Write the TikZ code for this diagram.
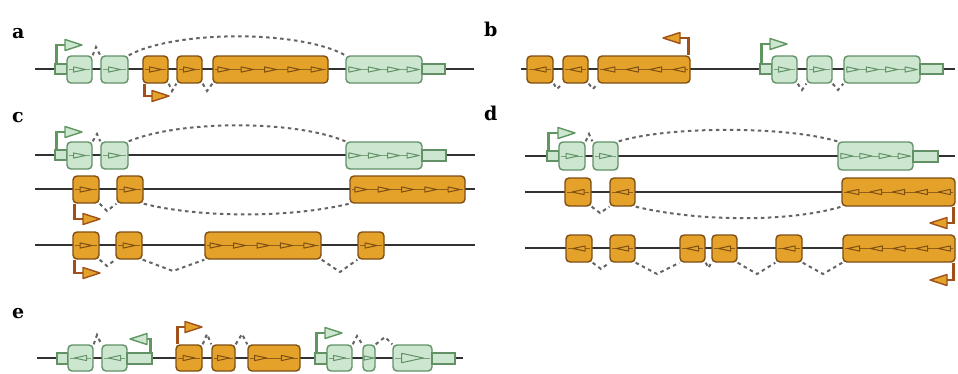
\documentclass[tikz,border=0pt]{standalone}
\usepackage{fontspec}
\setmainfont{DejaVu Serif}
\usetikzlibrary{calc}

\definecolor{gfill}{RGB}{204,230,208}
\definecolor{gline}{RGB}{98,145,102}
\definecolor{gprom}{RGB}{96,150,96}
\definecolor{ofill}{RGB}{229,162,42}
\definecolor{oline}{RGB}{125,78,20}
\definecolor{oprom}{RGB}{160,80,25}
\definecolor{intron}{RGB}{50,50,50}
\definecolor{splice}{RGB}{100,100,100}

\tikzset{
 gex/.style={draw=gline, fill=gfill, line width=1.4pt, rounded corners=4pt, inner sep=0pt},
 oex/.style={draw=oline, fill=ofill, line width=1.4pt, rounded corners=4pt, inner sep=0pt},
 gutr/.style={draw=gline, fill=gfill, line width=1.2pt, inner sep=0pt},
 intr/.style={draw=intron, line width=1.7pt},
 spl/.style={draw=splice, line width=2pt, dash pattern=on 3.5pt off 3.5pt},
 gstem/.style={draw=gprom, line width=2.8pt},
 ostem/.style={draw=oprom, line width=2.8pt},
 gtip/.style={draw=gprom, fill=gfill, line width=1.4pt, line join=round},
 otip/.style={draw=oprom, fill=ofill, line width=1.4pt, line join=round},
 gtri/.style={draw=gline, fill=gfill, line width=1pt, line join=round},
 otri/.style={draw=oline, fill=ofill, line width=1pt, line join=round},
 lab/.style={font=\bfseries\fontsize{19}{19}\selectfont, anchor=base west, inner sep=0pt},
}

% #1 style, #2 name, #3 x1, #4 x2, #5 y1, #6 y2
\newcommand\ex[6]{\node[#1, minimum width={(#4)-(#3)}, minimum height={(#6)-(#5)}] (#2) at ({((#3)+(#4))/2},{((#5)+(#6))/2}) {};}
% [#1 scale] #2 node, #3 count, #4 dir, #5 style
\newcommand\tris[5][1]{%
 \draw[#5, fill=none, opacity=0.8] ([xshift=3pt]#2.west) -- ([xshift=-3pt]#2.east);
 \foreach \i in {1,...,#3}{
   \coordinate (tt) at ($(#2.west)!{(\i-0.5)/#3}!(#2.east)$);
   \draw[#5, shift={(tt)}, xscale={#4*#1}, yscale=#1] (-6,-2.6) -- (6,0) -- (-6,2.6) -- cycle;
 }}
% #1 stem style, #2 tip style, #3 start, #4 corner, #5 dir
\newcommand\prom[5]{%
 \draw[#1] #3 |- #4;
 \draw[#2, shift={#4}, xscale=#5] (0,-5.5) -- (17,0) -- (0,5.5) -- cycle;}

\begin{document}
\begin{tikzpicture}[x=1pt,y=-1pt]
\useasboundingbox (0,0) rectangle (958,373);
\fill[white] (0,0) rectangle (958,373);

% labels
\node[lab] (la) at (12,38) {a};
\node[lab] (lb) at (484,36) {b};
\node[lab] (lc) at (12,122) {c};
\node[lab] (ld) at (484,120) {d};
\node[lab] (le) at (12,318) {e};

% ================= a
\draw[intr] (35,69) -- (474,69);
\ex{gutr}{au}{55}{67}{64}{74}
\ex{gex}{ag1}{67}{92}{56}{83}
\ex{gex}{ag2}{101}{128}{56}{83}
\ex{oex}{ao1}{143}{168}{56}{83}
\ex{oex}{ao2}{177}{202}{56}{83}
\ex{oex}{aO}{213}{328}{56}{83}
\ex{gex}{aG}{346}{422}{56}{83}
\ex{gutr}{au2}{422}{445}{64}{74}
\tris{ag1}{1}{1}{gtri}\tris{ag2}{1}{1}{gtri}
\tris{ao1}{1}{1}{otri}\tris{ao2}{1}{1}{otri}\tris{aO}{5}{1}{otri}
\tris{aG}{4}{1}{gtri}
\prom{gstem}{gtip}{([xshift=2pt]au.north west)}{(65,45)}{1}
\prom{ostem}{otip}{([xshift=2.5pt]ao1.south west)}{(152,96)}{1}
\draw[spl] (ag1.north east) -- (96,47) -- (ag2.north west);
\draw[spl] (ag2.north east) .. controls (175,30) and (300,30) .. (aG.north west);
\draw[spl] (ao1.south east) -- (172,91) -- (ao2.south west);
\draw[spl] (ao2.south east) -- (207,91) -- (aO.south west);

% ================= b
\draw[intr] (521,69) -- (955,69);
\ex{oex}{bo1}{527}{553}{56}{83}
\ex{oex}{bo2}{563}{588}{56}{83}
\ex{oex}{bO}{598}{690}{56}{83}
\tris{bo1}{1}{-1}{otri}\tris{bo2}{1}{-1}{otri}\tris{bO}{4}{-1}{otri}
\prom{ostem}{otip}{([xshift=-2.5pt]bO.north east)}{(680,38)}{-1}
\ex{gutr}{bu}{760}{772}{64}{74}
\ex{gex}{bg1}{772}{797}{56}{83}
\ex{gex}{bg2}{807}{832}{56}{83}
\ex{gex}{bG}{844}{920}{56}{83}
\ex{gutr}{bu2}{920}{943}{64}{74}
\tris{bg1}{1}{1}{gtri}\tris{bg2}{1}{1}{gtri}\tris{bG}{4}{1}{gtri}
\prom{gstem}{gtip}{([xshift=2pt]bu.north west)}{(770,44)}{1}
\draw[spl] (bo1.south east) -- (557,89) -- (bo2.south west);
\draw[spl] (bo2.south east) -- (593,89) -- (bO.south west);
\draw[spl] (bg1.south east) -- (802,90) -- (bg2.south west);
\draw[spl] (bg2.south east) -- (838,90) -- (bG.south west);

% ================= c
\draw[intr] (35,155) -- (475,155);
\ex{gutr}{cu}{55}{67}{150}{160}
\ex{gex}{cg1}{67}{92}{142}{169}
\ex{gex}{cg2}{101}{128}{142}{169}
\ex{gex}{cG}{346}{422}{142}{169}
\ex{gutr}{cu2}{422}{446}{150}{161}
\tris{cg1}{1}{1}{gtri}\tris{cg2}{1}{1}{gtri}\tris{cG}{4}{1}{gtri}
\prom{gstem}{gtip}{([xshift=2pt]cu.north west)}{(65,132)}{1}
\draw[spl] (cg1.north east) -- (97,134) -- (cg2.north west);
\draw[spl] (cg2.north east) .. controls (180,120) and (295,120) .. (cG.north west);

\draw[intr] (35,189) -- (475,189);
\ex{oex}{co1}{73}{99}{176}{203}
\ex{oex}{co2}{117}{143}{176}{203}
\ex{oex}{cO}{350}{465}{176}{203}
\tris{co1}{1}{1}{otri}\tris{co2}{1}{1}{otri}\tris{cO}{5}{1}{otri}
\prom{ostem}{otip}{([xshift=2.5pt]co1.south west)}{(83,219)}{1}
\draw[spl] (co1.south east) -- (107,211) -- (co2.south west);
\draw[spl] (co2.south east) .. controls (200,218) and (290,218) .. (cO.south west);

\draw[intr] (35,245) -- (475,245);
\ex{oex}{c3a}{73}{99}{232}{259}
\ex{oex}{c3b}{116}{142}{232}{259}
\ex{oex}{c3O}{205}{321}{232}{259}
\ex{oex}{c3c}{358}{384}{232}{259}
\tris{c3a}{1}{1}{otri}\tris{c3b}{1}{1}{otri}\tris{c3O}{5}{1}{otri}\tris{c3c}{1}{1}{otri}
\prom{ostem}{otip}{([xshift=2.5pt]c3a.south west)}{(83,273)}{1}
\draw[spl] (c3a.south east) -- (107,266) -- (c3b.south west);
\draw[spl] (c3b.south east) -- (173,271) -- (c3O.south west);
\draw[spl] (c3O.south east) -- (340,272) -- (c3c.south west);

% ================= d
\draw[intr] (525,156) -- (955,156);
\ex{gutr}{du}{547}{559}{151}{161}
\ex{gex}{dg1}{559}{585}{142}{170}
\ex{gex}{dg2}{593}{618}{142}{170}
\ex{gex}{dG}{838}{913}{142}{170}
\ex{gutr}{du2}{913}{938}{151}{162}
\tris{dg1}{1}{1}{gtri}\tris{dg2}{1}{1}{gtri}\tris{dG}{4}{1}{gtri}
\prom{gstem}{gtip}{([xshift=2pt]du.north west)}{(558,133)}{1}
\draw[spl] (dg1.north east) -- (589,134) -- (dg2.north west);
\draw[spl] (dg2.north east) .. controls (670,126) and (785,126) .. (dG.north west);

\draw[intr] (525,192) -- (955,192);
\ex{oex}{d2a}{565}{591}{178}{206}
\ex{oex}{d2b}{610}{635}{178}{206}
\ex{oex}{d2O}{842}{955}{178}{206}
\tris{d2a}{1}{-1}{otri}\tris{d2b}{1}{-1}{otri}\tris{d2O}{5}{-1}{otri}
\prom{ostem}{otip}{([xshift=-2.5pt]d2O.south east)}{(947,223)}{-1}
\draw[spl] (d2a.south east) -- (600,213) -- (d2b.south west);
\draw[spl] (d2b.south east) .. controls (700,222) and (790,222) .. (d2O.south west);

\draw[intr] (525,248) -- (955,248);
\ex{oex}{d3a}{566}{592}{235}{262}
\ex{oex}{d3b}{610}{635}{235}{262}
\ex{oex}{d3c}{680}{705}{235}{262}
\ex{oex}{d3d}{712}{737}{235}{262}
\ex{oex}{d3e}{776}{802}{235}{262}
\ex{oex}{d3O}{843}{955}{235}{262}
\tris{d3a}{1}{-1}{otri}\tris{d3b}{1}{-1}{otri}\tris{d3c}{1}{-1}{otri}
\tris{d3d}{1}{-1}{otri}\tris{d3e}{1}{-1}{otri}\tris{d3O}{5}{-1}{otri}
\prom{ostem}{otip}{([xshift=-2.5pt]d3O.south east)}{(947,280)}{-1}
\draw[spl] (d3a.south east) -- (601,269) -- (d3b.south west);
\draw[spl] (d3b.south east) -- (657,274) -- (d3c.south west);
\draw[spl] (d3c.south east) -- (708.5,268) -- (d3d.south west);
\draw[spl] (d3d.south east) -- (757,274) -- (d3e.south west);
\draw[spl] (d3e.south east) -- (823,274) -- (d3O.south west);

% ================= e
\draw[intr] (37,358) -- (463,358);
\ex{gutr}{eu}{57}{68}{353}{364}
\ex{gex}{eg1}{68}{93}{345}{371}
\ex{gex}{eg2}{102}{127}{345}{371}
\ex{gutr}{eu2}{127}{152}{353}{364}
\tris{eg1}{1}{-1}{gtri}\tris{eg2}{1}{-1}{gtri}
\prom{gstem}{gtip}{([xshift=-2pt]eu2.north east)}{(147,339)}{-1}
\ex{oex}{eo1}{176}{202}{345}{371}
\ex{oex}{eo2}{212}{235}{345}{371}
\ex{oex}{eO}{248}{300}{345}{371}
\tris{eo1}{1}{1}{otri}\tris{eo2}{1}{1}{otri}\tris{eO}{2}{1}{otri}
\prom{ostem}{otip}{([xshift=2.5pt]eo1.north west)}{(185,327)}{1}
\ex{gutr}{eu3}{315}{327}{353}{364}
\ex{gex}{eh1}{327}{352}{345}{371}
\ex{gex}{eh2}{363}{375}{345}{371}
\ex{gex}{eH}{393}{432}{345}{371}
\ex{gutr}{eu4}{432}{455}{353}{364}
\tris{eh1}{1}{1}{gtri}\tris[0.8]{eh2}{1}{1}{gtri}\tris[1.8]{eH}{1}{1}{gtri}
\prom{gstem}{gtip}{([xshift=2pt]eu3.north west)}{(325,333)}{1}
\draw[spl] (eg1.north east) -- (97,335) -- (eg2.north west);
\draw[spl] (eo1.north east) -- (207,334) -- (eo2.north west);
\draw[spl] (eo2.north east) -- (242,334) -- (eO.north west);
\draw[spl] (eh1.north east) -- (357,336) -- (eh2.north west);
\draw[spl] (eh2.north east) -- (385,337) -- (eH.north west);
\end{tikzpicture}
\end{document}
